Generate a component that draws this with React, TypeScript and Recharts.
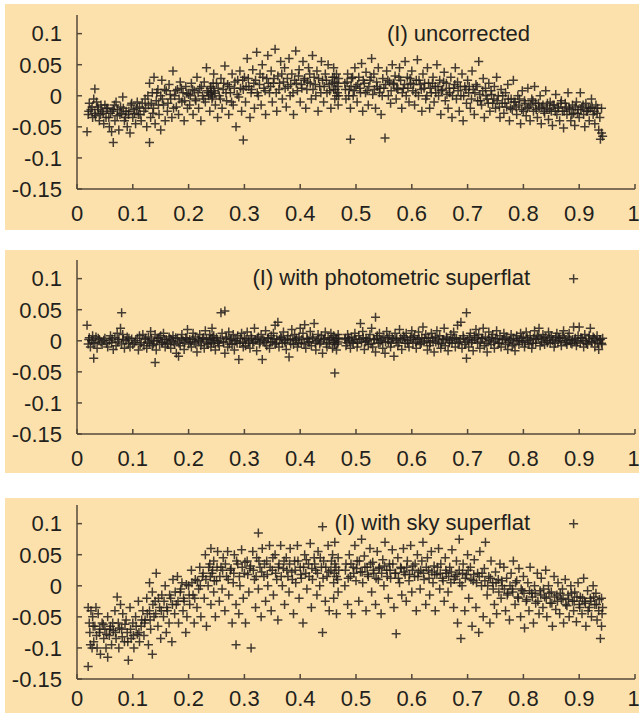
import { ScatterChart, Scatter, XAxis, YAxis } from 'recharts';

// flat-field residuals, I band: [x, residual]
const uncorrected: [number, number][] = [
  [0.018,-0.058],[0.02,-0.03],[0.022,-0.012],[0.025,-0.022],[0.028,-0.035],[0.03,-0.005],[0.032,0.011],[0.032,-0.028],[0.035,-0.01],[0.037,-0.018],[0.04,-0.04],[0.042,-0.03],[0.045,-0.025],[0.048,-0.045],[0.05,-0.015],[0.052,-0.035],[0.055,-0.02],[0.058,-0.05],[0.06,-0.028],[0.062,-0.058],[0.065,-0.022],[0.065,-0.075],[0.068,-0.04],[0.07,-0.01],[0.072,-0.032],[0.075,-0.055],[0.078,-0.018],[0.08,-0.028],[0.082,-0.002],[0.085,-0.04],[0.088,-0.025],[0.09,-0.05],[0.092,-0.03],[0.095,-0.06],[0.097,-0.015],[0.1,-0.035],[0.102,-0.022],[0.105,-0.045],[0.108,-0.01],[0.11,-0.03],[0.112,-0.018],[0.115,-0.04],
  [0.12,-0.025],[0.122,-0.005],[0.125,-0.05],[0.128,-0.015],[0.13,0.02],[0.13,-0.075],[0.132,-0.035],[0.135,0.005],[0.137,-0.02],[0.138,0.03],[0.14,-0.045],[0.142,-0.008],[0.145,0.01],[0.147,-0.03],[0.15,0.0],[0.15,-0.055],[0.152,0.025],[0.155,-0.015],[0.158,-0.04],[0.16,0.008],[0.162,-0.025],[0.165,0.018],[0.168,-0.005],[0.17,-0.035],[0.172,0.04],[0.175,0.0],[0.178,-0.018],[0.18,0.01],[0.182,-0.03],[0.185,0.022],[0.188,-0.01],[0.19,0.005],[0.192,-0.04],[0.195,0.015],[0.198,-0.02],[0.2,0.002],
  [0.202,-0.015],[0.205,0.02],[0.208,-0.03],[0.21,0.008],[0.212,-0.005],[0.215,0.03],[0.218,-0.02],[0.22,0.012],[0.222,-0.04],[0.225,0.0],[0.228,0.022],[0.23,-0.01],[0.232,0.045],[0.235,0.005],[0.238,-0.025],[0.24,0.015],[0.24,0.002],[0.242,-0.005],[0.245,0.035],[0.245,0.008],[0.248,-0.015],[0.25,0.02],[0.252,-0.035],[0.255,0.0],[0.258,0.028],[0.26,-0.02],[0.262,0.01],[0.265,0.048],[0.268,-0.008],[0.27,0.018],[0.272,-0.03],[0.275,0.005],[0.278,0.035],[0.28,-0.015],[0.282,0.012],[0.285,-0.05],[0.288,0.025],[0.29,-0.002],[0.292,0.04],[0.295,-0.025],[0.298,0.01],[0.298,-0.071],
  [0.3,0.03],[0.302,-0.01],[0.305,0.06],[0.308,0.015],[0.31,-0.035],[0.312,0.005],[0.315,0.042],[0.318,-0.02],[0.32,0.025],[0.322,0.07],[0.325,0.0],[0.328,0.035],[0.33,-0.015],[0.332,0.05],[0.335,0.012],[0.338,-0.03],[0.34,0.028],[0.342,0.065],[0.345,0.005],[0.348,0.04],[0.35,-0.01],[0.352,0.02],[0.355,0.075],[0.358,-0.025],[0.36,0.032],[0.362,0.01],[0.365,0.055],[0.368,-0.005],[0.37,0.022],[0.372,0.045],[0.375,-0.018],[0.378,0.015],[0.38,0.06],[0.382,0.0],[0.385,0.035],[0.388,-0.03],[0.39,0.025],[0.392,0.072],[0.395,0.008],[0.398,0.042],[0.4,-0.01],[0.402,0.018],[0.405,0.055],[0.408,0.028],[0.41,-0.02],[0.412,0.01],[0.415,0.045],[0.418,0.02],[0.42,-0.005],[0.422,0.065],[0.425,0.03],[0.428,0.0],[0.43,0.04],[0.432,-0.025],[0.435,0.015],[0.438,0.055],[0.44,0.025],[0.442,-0.01],[0.445,0.035],[0.448,0.005],[0.45,0.05],[0.452,0.018],[0.455,-0.02],[0.458,0.03],[0.46,0.01],[0.46,0.045],[0.462,-0.005],[0.462,0.022],[0.465,0.035],[0.465,0.0],[0.468,0.015],[0.468,-0.015],
  [0.48,0.02],[0.482,-0.005],[0.485,0.035],[0.488,0.01],[0.49,-0.07],[0.49,-0.02],[0.492,0.028],[0.495,0.0],[0.498,0.045],[0.5,0.015],[0.502,-0.01],[0.505,0.03],[0.508,0.005],[0.51,0.052],[0.512,-0.025],[0.515,0.02],[0.518,0.038],[0.52,0.008],[0.522,-0.015],[0.525,0.025],[0.528,0.06],[0.53,0.002],[0.532,0.035],[0.535,-0.02],[0.538,0.015],[0.54,0.045],[0.542,0.005],[0.545,-0.03],[0.548,0.028],[0.55,0.012],[0.552,-0.068],[0.555,0.04],[0.558,0.0],[0.56,0.022],[0.562,-0.012],[0.565,0.05],[0.568,0.018],[0.57,0.032],[0.572,-0.005],[0.575,0.01],[0.578,0.045],[0.58,0.025],[0.582,-0.02],[0.585,0.012],[0.588,0.055],[0.59,0.0],[0.592,0.03],[0.595,-0.01],[0.598,0.02],
  [0.6,0.04],[0.602,0.008],[0.605,-0.015],[0.608,0.025],[0.61,0.058],[0.612,0.0],[0.615,0.018],[0.618,-0.025],[0.62,0.035],[0.622,0.012],[0.625,-0.005],[0.628,0.045],[0.63,0.02],[0.632,-0.02],[0.635,0.005],[0.638,0.03],[0.64,-0.01],[0.642,0.015],[0.645,0.05],[0.648,0.0],[0.65,0.025],[0.652,-0.03],[0.655,0.01],[0.658,0.038],[0.66,-0.008],[0.662,0.02],[0.665,-0.02],[0.668,0.005],[0.67,0.03],[0.672,-0.035],[0.675,0.012],[0.678,0.045],[0.68,-0.005],[0.682,0.022],[0.685,-0.025],[0.688,0.0],[0.69,0.035],[0.692,-0.04],[0.695,0.015],[0.698,-0.012],[0.7,0.025],[0.702,0.005],[0.705,-0.02],[0.708,0.04],[0.71,0.01],[0.712,-0.03],[0.715,0.018],[0.718,-0.008],[0.72,0.055],[0.722,0.002],[0.725,-0.015],[0.728,0.028],[0.73,-0.035],[0.732,0.012],[0.735,-0.005],[0.738,0.02],[0.74,-0.025],[0.742,0.008],[0.745,-0.012],[0.748,0.015],
  [0.75,-0.02],[0.752,0.03],[0.755,0.0],[0.758,-0.035],[0.76,0.01],[0.762,-0.012],[0.765,-0.028],[0.768,0.005],[0.77,-0.018],[0.772,0.018],[0.775,-0.04],[0.778,-0.005],[0.78,-0.022],[0.782,0.025],[0.785,-0.01],[0.788,-0.03],[0.79,0.0],[0.792,-0.015],[0.795,-0.045],[0.798,0.008],[0.8,-0.025],[0.802,-0.008],[0.805,-0.032],[0.808,0.012],[0.81,-0.018],[0.812,-0.04],[0.815,-0.005],[0.818,-0.025],[0.82,0.015],[0.822,-0.012],[0.825,-0.035],[0.828,-0.02],[0.83,0.0],[0.832,-0.045],[0.835,-0.015],[0.838,-0.028],[0.84,0.008],[0.842,-0.02],[0.845,-0.038],[0.848,-0.01],[0.85,-0.025],[0.852,-0.048],[0.855,-0.015],[0.858,0.002],[0.86,-0.03],[0.862,-0.018],[0.865,-0.04],[0.868,-0.008],[0.87,-0.025],[0.872,-0.052],[0.875,-0.012],[0.878,-0.03],[0.88,0.005],[0.882,-0.02],[0.885,-0.04],[0.888,-0.015],[0.89,-0.028],[0.892,-0.048],[0.895,-0.01],[0.898,-0.022],[0.9,-0.035],[0.902,0.005],[0.905,-0.018],[0.908,-0.03],[0.91,-0.05],[0.912,-0.012],[0.915,-0.025],[0.918,-0.04],[0.92,-0.02],[0.922,-0.005],[0.925,-0.03],[0.928,-0.045],[0.93,-0.015],[0.932,-0.028],[0.935,-0.055],[0.938,-0.07],[0.94,-0.06],[0.94,-0.02],[0.942,-0.065],
];

// dense core of the uncorrected band
const uncorrectedCore: [number, number][] = [
  [0.021,-0.025],[0.027,-0.018],[0.033,-0.032],[0.038,-0.022],[0.043,-0.015],[0.047,-0.028],[0.053,-0.02],[0.057,-0.035],[0.063,-0.025],[0.067,-0.015],[0.073,-0.022],[0.077,-0.03],[0.083,-0.02],[0.087,-0.035],[0.093,-0.025],[0.098,-0.012],[0.103,-0.028],[0.107,-0.02],[0.113,-0.03],[0.117,-0.012],
  [0.123,-0.02],[0.127,0.0],[0.133,-0.012],[0.136,-0.028],[0.143,0.005],[0.146,-0.015],[0.153,-0.005],[0.157,0.01],[0.163,-0.012],[0.167,0.002],[0.173,-0.02],[0.177,0.008],[0.183,-0.005],[0.187,0.012],[0.193,-0.008],[0.197,0.004],
  [0.203,0.0],[0.207,0.01],[0.213,-0.008],[0.217,0.005],[0.223,0.015],[0.227,-0.005],[0.233,0.008],[0.236,0.0],[0.239,0.012],[0.241,0.006],[0.243,-0.002],[0.244,0.02],[0.247,0.004],[0.253,0.012],[0.257,-0.005],[0.263,0.02],[0.267,0.005],[0.273,0.015],[0.277,-0.01],[0.283,0.022],[0.287,0.002],[0.293,0.012],[0.297,0.025],
  [0.303,0.015],[0.307,0.028],[0.313,0.01],[0.317,0.02],[0.323,0.005],[0.327,0.018],[0.333,0.03],[0.337,0.008],[0.343,0.02],[0.347,0.015],[0.353,0.028],[0.357,0.005],[0.363,0.02],[0.367,0.035],[0.373,0.012],[0.377,0.028],[0.383,0.018],[0.387,0.005],[0.393,0.02],[0.397,0.032],[0.403,0.012],[0.407,0.025],[0.413,0.022],[0.417,0.035],[0.423,0.01],[0.427,0.018],[0.433,0.028],[0.437,0.005],[0.443,0.015],[0.447,0.025],[0.453,0.008],[0.457,0.02],[0.461,0.03],[0.463,0.01],[0.466,0.02],[0.467,0.005],[0.469,0.028],[0.469,0.0],
  [0.481,0.01],[0.484,0.022],[0.487,0.0],[0.491,0.015],[0.494,0.03],[0.497,0.008],[0.503,0.018],[0.507,0.012],[0.513,0.025],[0.517,0.005],[0.523,0.015],[0.527,0.03],[0.533,0.01],[0.537,0.022],[0.543,0.012],[0.547,0.0],[0.553,0.018],[0.557,0.025],[0.563,0.008],[0.567,0.02],[0.573,0.012],[0.577,0.03],[0.583,0.005],[0.587,0.018],[0.593,0.012],[0.597,0.028],
  [0.603,0.018],[0.607,0.005],[0.613,0.025],[0.617,0.01],[0.623,0.02],[0.627,0.0],[0.633,0.012],[0.637,0.02],[0.643,0.005],[0.647,0.015],[0.653,0.008],[0.657,0.022],[0.663,0.002],[0.667,0.012],[0.673,0.0],[0.677,0.018],[0.683,0.008],[0.687,0.015],[0.693,0.0],[0.697,0.01],[0.703,0.015],[0.707,-0.005],[0.713,0.005],[0.717,0.015],[0.723,-0.008],[0.727,0.008],[0.733,0.0],[0.737,-0.012],[0.743,0.002],[0.747,-0.005],
  [0.753,-0.008],[0.757,-0.018],[0.763,0.0],[0.767,-0.012],[0.773,-0.005],[0.777,-0.02],[0.783,-0.01],[0.787,-0.018],[0.793,-0.005],[0.797,-0.022],[0.803,-0.012],[0.807,-0.02],[0.813,-0.015],[0.817,-0.008],[0.823,-0.022],[0.827,-0.012],[0.833,-0.018],[0.837,-0.025],[0.843,-0.012],[0.847,-0.022],[0.853,-0.015],[0.857,-0.025],[0.863,-0.02],[0.867,-0.012],[0.873,-0.025],[0.877,-0.018],[0.883,-0.022],[0.887,-0.03],[0.893,-0.018],[0.897,-0.028],[0.903,-0.022],[0.907,-0.015],[0.913,-0.025],[0.917,-0.02],[0.923,-0.018],[0.927,-0.025],[0.933,-0.02],[0.937,-0.035],
];

const photometric: [number, number][] = [
  [0.018,0.025],[0.02,-0.005],[0.022,0.005],[0.024,-0.01],[0.026,0.0],[0.028,0.008],[0.03,-0.028],[0.032,-0.004],[0.034,0.006],[0.036,-0.012],[0.04,0.002],[0.045,-0.006],[0.05,0.004],[0.055,-0.01],[0.058,0.0],[0.06,0.008],[0.062,-0.003],[0.065,-0.014],[0.068,0.005],[0.07,-0.008],[0.072,0.012],[0.075,0.002],[0.078,0.02],[0.08,0.045],[0.08,-0.005],[0.082,0.01],[0.085,-0.012],[0.088,0.0],[0.09,0.006],[0.092,-0.004],[0.095,-0.01],[0.098,0.003],[0.1,-0.006],[0.105,0.0],[0.11,-0.015],[0.112,0.008],[0.115,-0.003],[0.118,0.01],[0.12,-0.008],
  [0.122,0.002],[0.125,-0.012],[0.128,0.006],[0.13,-0.004],[0.132,0.015],[0.135,-0.008],[0.138,0.0],[0.14,-0.035],[0.14,0.01],[0.142,-0.015],[0.145,0.004],[0.148,-0.006],[0.15,0.008],[0.152,-0.002],[0.155,0.012],[0.158,-0.01],[0.16,0.002],[0.162,-0.004],[0.165,0.006],[0.168,-0.012],[0.17,0.0],[0.172,0.008],[0.175,-0.006],[0.178,-0.02],[0.18,0.004],[0.182,-0.025],[0.185,-0.008],[0.188,0.01],[0.19,0.0],[0.192,-0.014],[0.195,0.005],[0.198,0.018],[0.2,-0.005],[0.202,0.002],[0.205,-0.01],[0.208,0.012],[0.21,-0.002],[0.212,0.006],[0.215,-0.018],[0.218,0.0],[0.22,0.01],[0.222,-0.008],[0.225,0.004],[0.228,-0.012],[0.23,0.016],[0.232,0.002],[0.235,-0.006],[0.238,0.01],[0.24,-0.01],[0.24,0.003],[0.242,0.02],[0.245,-0.004],[0.245,0.008],[0.248,-0.015],[0.25,0.005],[0.252,0.0],[0.255,-0.008],[0.258,0.045],[0.26,0.012],[0.262,-0.002],[0.265,0.048],[0.265,-0.02],[0.268,0.006],[0.27,-0.01],[0.272,0.014],[0.275,0.002],[0.278,-0.006],[0.28,0.01],[0.282,-0.015],[0.285,0.0],[0.288,0.008],[0.29,-0.03],[0.292,-0.004],[0.295,0.012],[0.298,-0.01],
  [0.3,0.004],[0.302,-0.008],[0.305,0.014],[0.308,0.0],[0.31,-0.012],[0.312,0.008],[0.315,-0.004],[0.318,0.02],[0.32,0.002],[0.322,-0.016],[0.325,0.006],[0.328,-0.002],[0.33,0.01],[0.332,-0.03],[0.335,0.0],[0.338,0.016],[0.34,-0.008],[0.342,0.004],[0.345,-0.012],[0.348,0.008],[0.35,-0.002],[0.352,0.012],[0.355,0.025],[0.355,-0.006],[0.358,0.003],[0.36,0.03],[0.362,-0.01],[0.365,0.006],[0.368,-0.004],[0.37,0.014],[0.372,0.0],[0.375,-0.014],[0.378,0.008],[0.38,-0.026],[0.382,0.002],[0.385,0.018],[0.388,-0.006],[0.39,0.01],[0.392,0.0],[0.395,-0.01],[0.398,0.006],[0.4,0.02],[0.402,-0.004],[0.405,0.012],[0.408,0.026],[0.41,-0.012],[0.412,0.004],[0.415,-0.002],[0.418,0.015],[0.42,-0.008],[0.422,0.006],[0.425,0.028],[0.428,-0.015],[0.43,0.0],[0.432,0.01],[0.435,-0.005],[0.438,0.008],[0.44,-0.02],[0.442,0.002],[0.445,0.014],[0.448,-0.01],[0.45,0.005],[0.452,-0.003],[0.455,0.012],[0.458,-0.012],[0.46,0.0],[0.46,0.008],[0.462,-0.052],[0.462,-0.006],[0.465,0.004],[0.465,-0.015],[0.468,0.01],[0.468,-0.002],
  [0.48,0.002],[0.482,-0.008],[0.485,0.01],[0.488,0.0],[0.49,-0.012],[0.492,0.006],[0.495,-0.004],[0.498,0.012],[0.5,0.002],[0.502,-0.01],[0.505,0.008],[0.508,0.028],[0.51,-0.002],[0.512,0.015],[0.515,-0.014],[0.518,0.004],[0.52,0.0],[0.522,-0.006],[0.525,0.01],[0.528,0.02],[0.53,-0.01],[0.532,0.002],[0.535,0.038],[0.535,-0.018],[0.538,0.008],[0.54,-0.004],[0.542,0.012],[0.545,0.0],[0.548,-0.012],[0.55,0.006],[0.552,-0.02],[0.555,0.015],[0.558,-0.002],[0.56,0.008],[0.562,-0.01],[0.565,0.004],[0.568,-0.025],[0.57,0.012],[0.572,0.0],[0.575,-0.008],[0.578,0.018],[0.58,0.004],[0.582,-0.014],[0.585,0.008],[0.588,-0.004],[0.59,0.012],[0.592,0.0],[0.595,-0.01],[0.598,0.006],[0.6,0.016],[0.602,-0.004],[0.605,0.008],[0.608,-0.012],[0.61,0.002],[0.612,0.014],[0.615,-0.006],[0.618,0.005],[0.62,0.022],[0.622,-0.002],[0.625,0.01],[0.628,-0.015],[0.63,0.004],[0.632,-0.008],[0.635,0.012],[0.638,0.0],[0.64,-0.018],[0.642,0.006],[0.645,0.016],[0.648,-0.004],[0.65,0.008],[0.652,-0.012],[0.655,0.002],[0.658,0.02],[0.66,-0.008],[0.662,0.006],[0.665,-0.016],[0.668,0.0],[0.67,0.01],[0.672,-0.004],[0.675,0.014],[0.678,-0.01],[0.68,0.004],[0.682,0.025],[0.685,-0.002],[0.688,0.03],[0.69,-0.012],[0.692,0.008],[0.695,-0.006],[0.698,0.045],[0.698,-0.028],
  [0.7,0.002],[0.702,-0.01],[0.705,0.012],[0.708,0.0],[0.71,-0.016],[0.712,0.008],[0.715,0.018],[0.718,-0.004],[0.72,0.01],[0.722,-0.012],[0.725,0.004],[0.728,0.02],[0.73,-0.008],[0.732,0.006],[0.735,-0.018],[0.738,0.014],[0.74,0.0],[0.742,-0.006],[0.745,0.01],[0.748,-0.012],[0.75,0.004],[0.752,0.016],[0.755,-0.004],[0.758,0.008],[0.76,-0.01],[0.762,0.002],[0.765,0.012],[0.768,-0.006],[0.77,0.006],[0.772,-0.014],[0.775,0.0],[0.778,0.01],[0.78,-0.008],[0.782,0.004],[0.785,-0.016],[0.788,0.008],[0.79,0.0],[0.792,-0.006],[0.795,0.012],[0.798,-0.002],[0.8,0.006],[0.802,-0.01],[0.805,0.014],[0.808,0.0],[0.81,-0.006],[0.812,0.008],[0.815,-0.012],[0.818,0.004],[0.82,0.016],[0.822,-0.004],[0.825,0.008],[0.828,0.02],[0.83,-0.008],[0.832,0.002],[0.835,0.01],[0.838,-0.006],[0.84,0.006],[0.842,0.0],[0.845,0.014],[0.848,-0.004],[0.85,0.008],[0.852,0.0],[0.855,-0.01],[0.858,0.006],[0.86,0.012],[0.862,-0.002],[0.865,0.004],[0.868,-0.008],[0.87,0.008],[0.872,0.016],[0.875,0.0],[0.878,-0.006],[0.88,0.006],[0.882,0.012],[0.885,-0.004],[0.888,0.002],[0.89,0.1],[0.89,0.022],[0.892,0.0],[0.895,-0.008],[0.898,0.008],[0.9,0.022],[0.902,-0.004],[0.905,0.004],[0.908,-0.01],[0.91,0.01],[0.912,0.0],[0.915,-0.006],[0.918,0.008],[0.92,0.02],[0.922,-0.002],[0.925,0.006],[0.928,-0.01],[0.93,0.0],[0.932,0.008],[0.935,-0.014],[0.938,0.002],[0.94,-0.004],[0.942,0.004],
];

const photometricCore: [number, number][] = [
  [0.021,0.002],[0.029,-0.003],[0.038,0.004],[0.043,-0.002],[0.048,0.001],[0.053,-0.004],[0.063,0.003],[0.073,-0.002],[0.083,0.002],[0.093,0.004],[0.103,-0.003],[0.108,0.004],[0.113,-0.006],[0.123,0.004],[0.127,-0.002],[0.133,0.003],[0.137,-0.005],[0.143,0.0],[0.147,0.005],[0.153,-0.003],[0.157,0.002],[0.163,-0.006],[0.167,0.003],[0.173,-0.002],[0.177,0.005],[0.183,-0.004],[0.187,0.002],[0.193,-0.003],[0.197,0.004],[0.203,-0.002],[0.207,0.003],[0.213,-0.005],[0.217,0.002],[0.223,-0.002],[0.227,0.005],[0.233,-0.004],[0.237,0.002],[0.241,-0.003],[0.243,0.005],[0.247,0.0],[0.253,-0.004],[0.257,0.003],[0.263,-0.002],[0.267,0.004],[0.273,-0.005],[0.277,0.003],[0.283,0.0],[0.287,-0.004],[0.293,0.004],[0.297,-0.002],
  [0.303,0.002],[0.307,-0.004],[0.313,0.004],[0.317,-0.002],[0.323,0.003],[0.327,-0.005],[0.333,0.002],[0.337,-0.003],[0.343,0.005],[0.347,-0.002],[0.353,0.003],[0.357,-0.004],[0.363,0.002],[0.367,0.005],[0.373,-0.003],[0.377,0.003],[0.383,-0.005],[0.387,0.002],[0.393,0.004],[0.397,-0.003],[0.403,0.002],[0.407,-0.005],[0.413,0.003],[0.417,-0.002],[0.423,0.004],[0.427,-0.004],[0.433,0.002],[0.437,-0.002],[0.443,0.004],[0.447,-0.005],[0.453,0.002],[0.457,0.005],[0.461,-0.003],[0.464,0.002],[0.467,-0.005],[0.469,0.004],
  [0.481,0.004],[0.484,-0.003],[0.487,0.005],[0.493,-0.002],[0.497,0.003],[0.503,-0.004],[0.507,0.002],[0.513,0.005],[0.517,-0.002],[0.523,0.003],[0.527,-0.005],[0.533,0.002],[0.537,0.004],[0.543,-0.003],[0.547,0.003],[0.553,-0.002],[0.557,0.005],[0.563,-0.004],[0.567,0.002],[0.573,0.004],[0.577,-0.003],[0.583,0.002],[0.587,0.005],[0.593,-0.004],[0.597,0.002],[0.603,0.005],[0.607,-0.002],[0.613,0.003],[0.617,-0.004],[0.623,0.004],[0.627,0.0],[0.633,-0.003],[0.637,0.005],[0.643,-0.002],[0.647,0.003],[0.653,-0.005],[0.657,0.002],[0.663,0.004],[0.667,-0.003],[0.673,0.002],[0.677,0.005],[0.683,-0.004],[0.687,0.002],[0.693,0.004],[0.697,-0.002],
  [0.703,0.005],[0.707,-0.003],[0.713,0.002],[0.717,0.005],[0.723,-0.002],[0.727,0.004],[0.733,-0.004],[0.737,0.002],[0.743,0.005],[0.747,-0.002],[0.753,0.003],[0.757,-0.004],[0.763,0.002],[0.767,0.004],[0.773,-0.003],[0.777,0.002],[0.783,-0.005],[0.787,0.003],[0.793,0.0],[0.797,0.004],[0.803,-0.003],[0.807,0.005],[0.813,0.002],[0.817,-0.004],[0.823,0.003],[0.827,0.006],[0.833,-0.002],[0.837,0.004],[0.843,-0.003],[0.847,0.005],[0.853,0.002],[0.857,-0.004],[0.863,0.005],[0.867,0.0],[0.873,0.004],[0.877,-0.003],[0.883,0.002],[0.887,-0.005],[0.893,0.004],[0.897,-0.002],[0.903,0.005],[0.907,0.0],[0.913,-0.004],[0.917,0.003],[0.923,-0.002],[0.927,0.004],[0.933,-0.004],[0.937,0.002],[0.941,-0.006],
];

const sky: [number, number][] = [
  [0.02,-0.035],[0.02,-0.13],[0.022,-0.06],[0.024,-0.095],[0.025,-0.04],[0.027,-0.1],[0.028,-0.05],[0.03,-0.09],[0.032,-0.065],[0.034,-0.035],[0.036,-0.1],[0.038,-0.045],[0.04,-0.075],[0.042,-0.11],[0.045,-0.06],[0.048,-0.085],[0.05,-0.07],[0.052,-0.1],[0.055,-0.115],[0.055,-0.05],[0.058,-0.08],[0.06,-0.065],[0.062,-0.095],[0.065,-0.072],[0.068,-0.04],[0.07,-0.085],[0.072,-0.018],[0.074,-0.06],[0.075,-0.1],[0.078,-0.03],[0.08,-0.07],[0.082,-0.045],[0.085,-0.09],[0.088,-0.055],[0.09,-0.075],[0.092,-0.12],[0.095,-0.035],[0.097,-0.085],[0.1,-0.06],[0.102,-0.1],[0.105,-0.05],[0.108,-0.078],[0.11,-0.025],[0.112,-0.09],[0.115,-0.065],[0.118,-0.04],[0.12,-0.08],
  [0.122,-0.055],[0.125,-0.02],[0.128,-0.095],[0.13,-0.04],[0.13,0.005],[0.132,-0.07],[0.135,-0.01],[0.135,-0.11],[0.138,-0.05],[0.14,-0.025],[0.142,0.02],[0.145,-0.065],[0.148,-0.035],[0.15,-0.085],[0.152,-0.015],[0.155,-0.05],[0.158,0.0],[0.16,-0.075],[0.162,-0.04],[0.165,-0.06],[0.168,-0.02],[0.17,-0.09],[0.172,0.01],[0.175,-0.045],[0.178,-0.03],[0.18,0.015],[0.182,-0.06],[0.185,-0.01],[0.188,0.005],[0.19,-0.04],[0.192,-0.025],[0.195,-0.075],[0.197,-0.05],[0.2,0.0],[0.202,-0.03],[0.205,0.025],[0.208,-0.015],[0.21,-0.06],[0.212,0.01],[0.215,-0.035],[0.218,-0.005],[0.22,0.03],
  [0.222,-0.05],[0.225,0.015],[0.228,-0.02],[0.23,0.05],[0.232,-0.065],[0.235,0.0],[0.238,0.035],[0.24,-0.03],[0.24,0.06],[0.242,0.02],[0.245,-0.01],[0.245,0.04],[0.248,-0.05],[0.25,0.008],[0.252,0.055],[0.255,-0.025],[0.258,0.03],[0.26,-0.005],[0.262,0.045],[0.265,-0.04],[0.268,0.015],[0.27,0.055],[0.272,-0.015],[0.275,0.025],[0.278,-0.06],[0.28,0.005],[0.282,0.05],[0.285,-0.095],[0.285,-0.03],[0.288,0.035],[0.29,-0.045],[0.292,0.0],[0.295,0.058],[0.298,-0.02],[0.3,0.02],[0.302,-0.06],[0.305,0.04],[0.308,-0.01],[0.31,0.028],[0.312,-0.1],[0.315,0.055],[0.318,0.01],[0.32,-0.035],[0.322,0.045],[0.325,0.085],[0.325,-0.005],[0.328,0.03],[0.33,-0.05],[0.332,0.06],[0.335,0.015],[0.338,-0.025],[0.34,0.04],[0.342,0.0],[0.345,0.065],[0.348,-0.04],[0.35,0.025],
  [0.352,-0.015],[0.355,0.05],[0.358,0.01],[0.36,-0.055],[0.362,0.035],[0.365,0.065],[0.368,0.0],[0.37,0.028],[0.372,-0.03],[0.375,0.045],[0.378,0.015],[0.38,-0.01],[0.382,0.06],[0.385,0.022],[0.388,-0.045],[0.39,0.04],[0.392,0.005],[0.395,0.065],[0.398,-0.02],[0.4,0.03],[0.402,0.012],[0.405,-0.06],[0.408,0.05],[0.41,0.02],[0.412,-0.005],[0.415,0.035],[0.418,0.068],[0.42,-0.035],[0.422,0.01],[0.425,0.045],[0.428,0.025],[0.43,-0.015],[0.432,0.055],[0.435,0.0],[0.438,0.03],[0.44,-0.075],[0.44,0.095],[0.442,0.04],[0.445,-0.025],[0.448,0.015],[0.45,0.065],[0.452,-0.04],[0.455,0.025],[0.458,0.05],[0.46,0.005],[0.46,-0.02],[0.462,0.035],[0.462,0.07],[0.465,-0.045],[0.465,0.015],[0.468,-0.01],[0.468,0.045],
  [0.48,0.0],[0.482,0.035],[0.485,-0.03],[0.488,0.05],[0.49,0.015],[0.492,-0.045],[0.495,0.03],[0.498,0.065],[0.5,0.008],[0.502,0.04],[0.505,-0.025],[0.508,0.022],[0.51,0.075],[0.512,0.005],[0.515,0.048],[0.518,-0.04],[0.52,0.03],[0.522,0.015],[0.525,0.06],[0.528,-0.01],[0.53,0.038],[0.532,0.02],[0.535,-0.03],[0.538,0.055],[0.54,0.01],[0.542,0.03],[0.545,-0.045],[0.548,0.042],[0.55,0.0],[0.552,0.07],[0.555,0.025],[0.558,-0.02],[0.56,0.035],[0.562,0.012],[0.565,0.058],[0.568,-0.035],[0.57,0.02],[0.572,-0.077],[0.575,0.045],[0.578,0.005],[0.58,0.03],[0.582,-0.015],[0.585,0.06],[0.588,0.018],[0.59,-0.025],[0.592,0.04],[0.595,0.008],[0.598,0.065],[0.6,-0.01],[0.602,0.032],[0.605,0.015],[0.608,-0.04],[0.61,0.05],[0.612,0.022],[0.615,-0.005],[0.618,0.04],[0.62,0.07],
  [0.622,0.01],[0.625,-0.03],[0.628,0.045],[0.63,0.025],[0.632,-0.015],[0.635,0.055],[0.638,0.005],[0.64,0.032],[0.642,-0.04],[0.645,0.018],[0.648,0.06],[0.65,-0.005],[0.652,0.035],[0.655,0.012],[0.658,-0.025],[0.66,0.045],[0.662,0.02],[0.665,-0.01],[0.668,0.03],[0.67,0.005],[0.672,0.058],[0.675,-0.035],[0.678,0.015],[0.68,0.04],[0.682,-0.06],[0.685,0.025],[0.685,0.075],[0.688,-0.085],[0.69,0.0],[0.692,0.035],[0.695,-0.04],[0.698,0.018],[0.7,0.05],[0.702,-0.02],[0.705,0.03],[0.708,-0.065],[0.71,0.008],[0.712,0.042],[0.715,-0.035],[0.718,0.02],[0.72,-0.075],[0.722,0.055],[0.725,0.0],[0.728,-0.05],[0.73,0.028],[0.732,0.07],[0.735,-0.015],[0.738,0.015],[0.74,-0.06],[0.742,0.04],[0.745,0.005],[0.748,-0.03],[0.75,0.022],[0.752,-0.045],[0.755,0.01],[0.758,0.035],
  [0.76,-0.02],[0.762,0.0],[0.765,0.03],[0.768,-0.04],[0.77,0.012],[0.772,-0.012],[0.775,-0.055],[0.778,0.02],[0.78,-0.005],[0.782,0.04],[0.785,-0.03],[0.788,0.008],[0.79,-0.018],[0.792,0.028],[0.795,-0.05],[0.798,-0.008],[0.8,0.015],[0.802,-0.068],[0.805,-0.025],[0.808,0.005],[0.81,-0.04],[0.812,0.03],[0.815,-0.012],[0.818,-0.06],[0.82,0.0],[0.822,-0.028],[0.825,0.02],[0.828,-0.045],[0.83,-0.008],[0.832,0.012],[0.835,-0.035],[0.838,-0.018],[0.84,0.025],[0.842,-0.05],[0.845,0.0],[0.848,-0.028],[0.85,-0.01],[0.852,-0.065],[0.855,0.015],[0.858,-0.038],[0.86,-0.015],[0.862,0.005],[0.865,-0.045],[0.868,-0.022],[0.87,-0.005],[0.872,-0.06],[0.875,0.01],[0.878,-0.032],[0.88,-0.015],[0.882,-0.05],[0.885,0.0],[0.888,-0.025],[0.89,0.1],[0.89,-0.04],[0.892,-0.01],[0.895,-0.058],[0.898,0.005],[0.9,-0.03],[0.902,-0.018],[0.905,-0.045],[0.908,0.012],[0.91,-0.025],[0.912,-0.065],[0.915,-0.008],[0.918,-0.035],[0.92,-0.02],[0.922,-0.05],[0.925,0.0],[0.928,-0.03],[0.93,-0.012],[0.932,-0.055],[0.935,-0.04],[0.938,-0.085],[0.94,-0.02],[0.94,-0.065],[0.942,-0.035],
];

const skyCore: [number, number][] = [
  [0.023,-0.075],[0.029,-0.065],[0.035,-0.08],[0.041,-0.07],[0.047,-0.062],[0.053,-0.078],[0.059,-0.07],[0.064,-0.06],[0.069,-0.075],[0.076,-0.068],[0.081,-0.082],[0.086,-0.062],[0.091,-0.09],[0.096,-0.07],[0.101,-0.08],[0.106,-0.065],[0.111,-0.075],[0.116,-0.055],
  [0.121,-0.06],[0.126,-0.045],[0.131,-0.055],[0.136,-0.03],[0.141,-0.045],[0.146,-0.02],[0.151,-0.04],[0.156,-0.025],[0.161,-0.035],[0.166,-0.015],[0.171,-0.03],[0.176,-0.01],[0.181,-0.025],[0.186,-0.005],[0.191,-0.02],[0.196,0.002],[0.201,-0.015],[0.206,0.005],[0.211,-0.02],[0.216,0.008],
  [0.221,0.0],[0.226,0.02],[0.231,0.01],[0.236,0.03],[0.239,0.015],[0.243,0.025],[0.246,0.008],[0.251,0.03],[0.256,0.015],[0.261,0.025],[0.266,0.035],[0.271,0.01],[0.276,0.028],[0.281,0.02],[0.286,0.04],[0.291,0.015],[0.296,0.03],[0.301,0.038],[0.306,0.018],[0.311,0.032],[0.316,0.025],[0.321,0.015],[0.326,0.04],[0.331,0.022],[0.336,0.035],[0.341,0.018],[0.346,0.03],[0.351,0.045],[0.356,0.02],[0.361,0.03],[0.366,0.015],[0.371,0.04],[0.376,0.025],[0.381,0.035],[0.386,0.01],[0.391,0.025],[0.396,0.04],[0.401,0.018],[0.406,0.03],[0.411,0.042],[0.416,0.015],[0.421,0.028],[0.426,0.035],[0.431,0.02],[0.436,0.045],[0.441,0.012],[0.446,0.03],[0.451,0.022],[0.456,0.04],[0.461,0.02],[0.464,0.03],[0.467,0.01],[0.469,0.025],
  [0.481,0.025],[0.486,0.012],[0.491,0.035],[0.496,0.02],[0.501,0.028],[0.506,0.04],[0.511,0.022],[0.516,0.03],[0.521,0.018],[0.526,0.035],[0.531,0.025],[0.536,0.012],[0.541,0.028],[0.546,0.02],[0.551,0.032],[0.556,0.015],[0.561,0.025],[0.566,0.035],[0.571,0.02],[0.576,0.012],[0.581,0.028],[0.586,0.022],[0.591,0.03],[0.596,0.018],[0.601,0.025],[0.606,0.035],[0.611,0.015],[0.616,0.025],[0.621,0.02],[0.626,0.03],[0.631,0.012],[0.636,0.022],[0.641,0.018],[0.646,0.03],[0.651,0.02],[0.656,0.008],[0.661,0.025],[0.666,0.015],[0.671,0.022],[0.676,0.01],[0.681,0.018],[0.686,0.005],[0.691,0.02],[0.696,0.012],[0.701,0.025],[0.706,0.01],[0.711,0.018],[0.716,0.005],[0.721,0.015],[0.726,0.02],[0.731,0.008],[0.736,0.0],[0.741,0.012],[0.746,-0.005],
  [0.751,0.005],[0.756,-0.01],[0.761,0.008],[0.766,-0.005],[0.771,-0.015],[0.776,0.0],[0.781,-0.01],[0.786,0.005],[0.791,-0.02],[0.796,-0.005],[0.801,-0.012],[0.806,-0.022],[0.811,-0.008],[0.816,-0.018],[0.821,-0.012],[0.826,-0.025],[0.831,-0.015],[0.836,-0.005],[0.841,-0.02],[0.846,-0.012],[0.851,-0.028],[0.856,-0.018],[0.861,-0.025],[0.866,-0.012],[0.871,-0.02],[0.876,-0.03],[0.881,-0.022],[0.886,-0.012],[0.891,-0.025],[0.896,-0.018],[0.901,-0.035],[0.906,-0.02],[0.911,-0.028],[0.916,-0.04],[0.921,-0.025],[0.926,-0.018],[0.931,-0.03],[0.936,-0.022],[0.941,-0.045],
];

const xTicks = [0, 0.1, 0.2, 0.3, 0.4, 0.5, 0.6, 0.7, 0.8, 0.9, 1];
const yTicks = [-0.15, -0.1, -0.05, 0, 0.05, 0.1];

const BG = '#fce1ad';
const FRAME = '#54483a';
const INK = '#231f1c';
const FONT = '"Liberation Sans", Arial, Helvetica, sans-serif';
const PLOT_H = 174;
const X_AXIS_H = 30;

const Plus = (props: any) => {
  const { cx, cy } = props;
  if (cx == null || cy == null) return null;
  return (
    <path
      d={`M${cx - 4.5},${cy}h9M${cx},${cy - 4.5}v9`}
      stroke={INK}
      strokeWidth={1.5}
      strokeOpacity={0.85}
      fill="none"
    />
  );
};

interface PanelProps {
  top: number;
  height: number;
  plotTop: number;
  labelGap: number;
  titleTop: number;
  title: string;
  points: [number, number][];
  core: [number, number][];
}

function Panel({ top, height, plotTop, labelGap, titleTop, title, points, core }: PanelProps) {
  const data = [...points, ...core].map(([x, y]) => ({ x, y }));
  const tickStyle = { fill: INK, fontSize: 22, fontFamily: FONT };
  return (
    <div style={{ position: 'absolute', left: 5, top, width: 634, height, background: BG }}>
      <ScatterChart
        width={634}
        height={height}
        margin={{ top: plotTop, right: 4, left: 0, bottom: height - plotTop - PLOT_H - X_AXIS_H }}
      >
        <XAxis
          type="number"
          dataKey="x"
          domain={[0, 1]}
          ticks={xTicks}
          height={X_AXIS_H}
          tickSize={-5}
          tickMargin={labelGap}
          stroke={FRAME}
          strokeWidth={1.5}
          tick={tickStyle}
          allowDataOverflow
        />
        <XAxis
          xAxisId="top"
          orientation="top"
          type="number"
          domain={[0, 1]}
          ticks={xTicks}
          height={0}
          tickSize={-5}
          stroke={FRAME}
          strokeWidth={1.5}
          tickFormatter={() => ''}
        />
        <YAxis
          type="number"
          dataKey="y"
          domain={[-0.15, 0.13]}
          ticks={yTicks}
          width={72}
          tickSize={-5}
          tickMargin={20}
          stroke={FRAME}
          strokeWidth={1.5}
          tick={tickStyle}
          allowDataOverflow
        />
        <YAxis
          yAxisId="right"
          orientation="right"
          type="number"
          domain={[-0.15, 0.13]}
          ticks={yTicks}
          width={0}
          tickSize={-5}
          stroke={FRAME}
          strokeWidth={1.5}
          tickFormatter={() => ''}
        />
        <Scatter data={data} shape={Plus} isAnimationActive={false} />
      </ScatterChart>
      <div
        style={{
          position: 'absolute',
          right: 109,
          top: titleTop,
          fontFamily: FONT,
          fontSize: 22,
          color: INK,
          whiteSpace: 'nowrap',
        }}
      >
        {title}
      </div>
    </div>
  );
}

export default function App() {
  return (
    <div style={{ position: 'absolute', left: 0, top: 0, width: 639, height: 715, background: '#fff' }}>
      <Panel top={4} height={226} plotTop={11} labelGap={21} titleTop={17} title="(I) uncorrected" points={uncorrected} core={uncorrectedCore} />
      <Panel top={250} height={223} plotTop={10} labelGap={21} titleTop={15} title="(I) with photometric superflat" points={photometric} core={photometricCore} />
      <Panel top={498} height={215} plotTop={7} labelGap={16} titleTop={12} title="(I) with sky superflat" points={sky} core={skyCore} />
    </div>
  );
}
